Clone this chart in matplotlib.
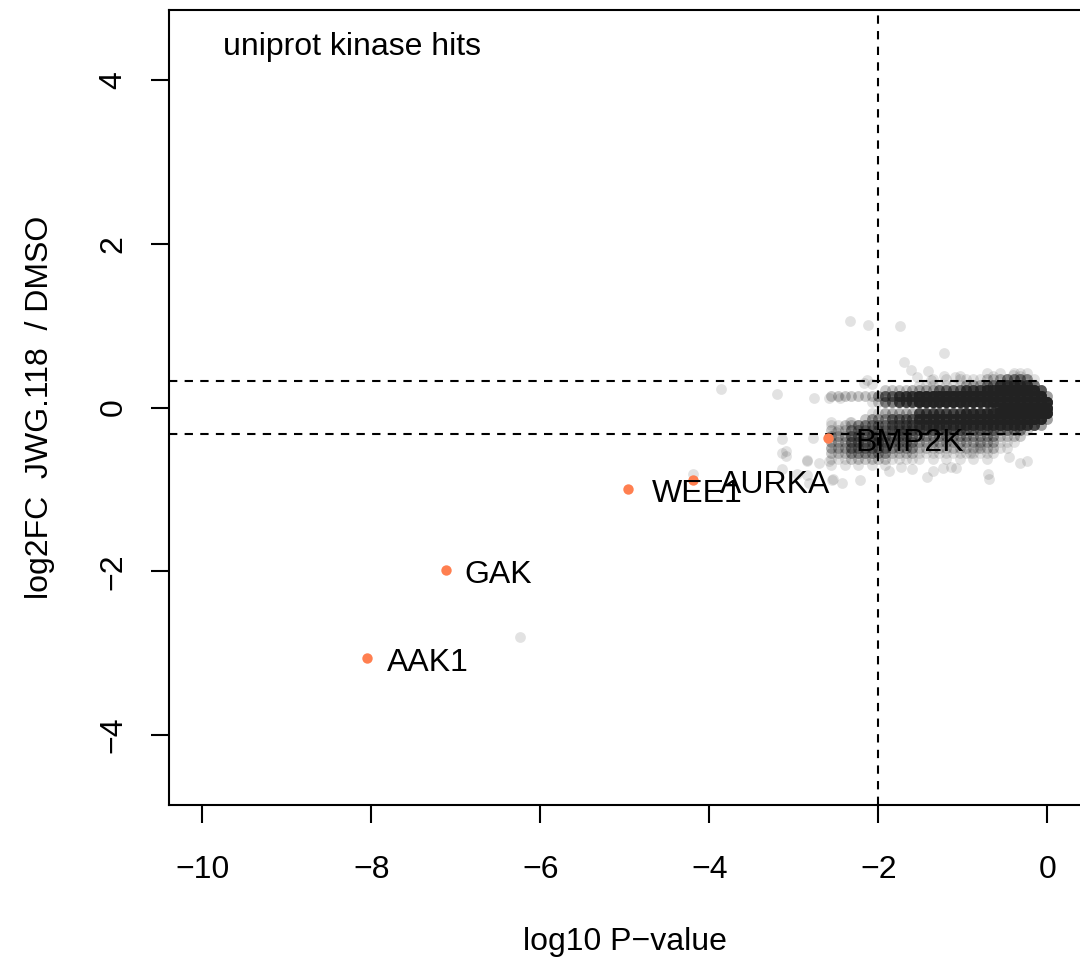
import numpy as np
import matplotlib
matplotlib.use('Agg')
import matplotlib.pyplot as plt

plt.rcParams['font.family'] = ['Liberation Sans', 'DejaVu Sans']

# kinase hits (orange, labelled)
hit_names = ['AAK1', 'GAK', 'WEE1', 'AURKA', 'BMP2K']
hit_x = [-8.05, -7.12, -4.96, -4.20, -2.60]
hit_y = [-3.06, -1.98, -1.00, -0.89, -0.37]
label_dx = [14.4, 13.0, 16.6, 19.4, 20.2]  # text offset right of point, pt

# sparse background proteins
bg_x = [-2.34, -2.13, -1.75, -1.23, -1.70, -1.61, -1.42, -1.55, -1.38, -1.23,
        -1.10, -1.04, -0.65, -0.41, -0.33, -0.25, -2.14, -2.08, -3.86, -3.20,
        -2.76, -2.58, -2.46, -6.24, -4.20, -3.14, -3.09, -3.10, -3.14, -2.85,
        -2.96, -2.78, -2.32, -2.50, -2.54, -2.43, -2.22, -1.87, -1.73, -1.60,
        -1.43, -1.36, -1.24, -1.14, -1.08, -0.71, -0.69, -0.33, -0.24, -0.45,
        -0.92, -0.84, -0.80, -3.14, -2.85, -2.70, -2.58, -2.85, -2.82, -2.55,
        -2.34, -2.56, -2.17]
bg_y = [1.06, 1.01, 1.00, 0.66, 0.56, 0.46, 0.44, 0.37, 0.34, 0.38,
        0.37, 0.38, 0.39, 0.40, 0.39, 0.35, 0.33, 0.29, 0.23, 0.16,
        0.11, 0.12, 0.12, -2.80, -0.81, -0.38, -0.53, -0.59, -0.75, -0.64,
        -0.81, -0.37, -0.18, -0.30, -0.87, -0.92, -0.89, -0.77, -0.73, -0.75,
        -0.85, -0.77, -0.74, -0.73, -0.74, -0.81, -0.87, -0.68, -0.65, -0.61,
        -0.56, -0.49, -0.46, -0.56, -0.65, -0.68, -0.65, -0.83, -0.92, -0.89,
        -0.18, -0.18, 0.30]

# dense core: number of proteins stacked at each grid cell (estimated)
core_x = [-2.56, -2.48, -2.40, -2.32, -2.24, -2.16, -2.08, -2.00, -1.92, -1.84,
          -1.76, -1.68, -1.60, -1.52, -1.44, -1.36, -1.28, -1.20, -1.12, -1.04,
          -0.96, -0.88, -0.80, -0.72, -0.64, -0.56, -0.48, -0.40, -0.32, -0.24,
          -0.16, -0.08, 0.00]
core_y = [0.42, 0.35, 0.28, 0.21, 0.14, 0.07, 0.00, -0.07, -0.14, -0.21,
          -0.28, -0.35, -0.42, -0.49, -0.56, -0.63, -0.70]
core_counts = [
    [0,0,0,0,0, 0,0,0,0,0, 0,0,0,0,0, 0,0,0,0,0, 0,0,0,1,0, 1,0,1,1,1, 0,0,0],
    [0,0,0,0,0, 0,0,0,0,0, 0,0,0,0,0, 1,0,1,0,1, 1,1,1,2,2, 3,6,6,6,4, 1,0,0],
    [0,0,0,0,0, 0,0,0,0,0, 0,0,0,1,1, 1,1,1,1,1, 3,3,3,6,6, 14,14,14,14,14, 6,0,0],
    [0,0,0,0,0, 0,0,0,2,2, 2,2,3,3,3, 3,7,7,7,7, 12,12,12,18,18, 22,22,22,22,22, 22,10,0],
    [2,2,2,2,2, 2,2,4,8,8, 14,14,14,24,24, 24,24,24,24,24, 24,24,24,24,24, 24,24,24,24,24, 24,24,4],
    [0,0,0,0,0, 0,1,2,6,6, 12,12,12,24,24, 24,24,24,24,24, 24,24,24,24,24, 24,24,24,24,24, 24,24,24],
    [0,0,0,0,0, 0,0,0,0,0, 0,0,0,0,0, 0,0,0,0,0, 0,0,0,1,4, 12,24,24,24,24, 24,24,24],
    [0,0,0,0,0, 0,1,1,3,3, 3,3,3,12,12, 12,12,12,12,12, 18,18,18,18,18, 24,24,24,24,24, 24,24,24],
    [0,0,0,0,0, 2,4,4,4,8, 8,8,8,16,16, 16,16,16,16,16, 20,20,20,20,20, 24,24,24,24,24, 24,20,4],
    [1,1,2,2,5, 5,5,5,5,8, 8,8,8,12,12, 12,12,12,12,12, 14,14,14,14,14, 16,16,16,16,16, 12,4,0],
    [2,2,2,5,5, 5,5,5,5,7, 7,7,7,7,7, 7,7,7,7,7, 6,6,6,6,6, 5,5,5,5,2, 0,0,0],
    [3,3,3,7,7, 7,7,7,7,6, 6,6,6,4,4, 4,4,4,4,4, 4,4,4,4,4, 2,2,2,2,0, 0,0,0],
    [3,3,3,7,7, 7,7,7,7,5, 5,5,5,3,3, 3,3,3,3,3, 3,3,3,3,3, 1,1,1,0,0, 0,0,0],
    [3,3,3,6,6, 6,6,6,6,4, 4,4,4,2,2, 2,2,2,2,2, 2,2,2,2,2, 1,1,0,0,0, 0,0,0],
    [2,2,2,4,4, 4,4,4,4,2, 2,2,2,1,1, 1,1,1,1,1, 1,1,1,1,1, 0,0,0,0,0, 0,0,0],
    [1,1,1,2,2, 2,2,2,2,1, 1,1,1,1,0, 1,0,1,0,1, 0,1,0,1,0, 0,0,0,0,0, 0,0,0],
    [1,0,1,0,1, 0,1,0,1,0, 0,0,0,0,0, 0,0,0,0,0, 0,0,0,0,0, 0,0,0,0,0, 0,0,0],
]

x_ticks = [-10, -8, -6, -4, -2, 0]
y_ticks = [-4, -2, 0, 2, 4]
p_cut = -2
fc_cut = 0.322

# expand the core grid into individual points
all_x = list(bg_x)
all_y = list(bg_y)
for yy, row in zip(core_y, core_counts):
    for xx, n in zip(core_x, row):
        all_x += [xx] * n
        all_y += [yy] * n

fig = plt.figure(figsize=(10.8, 9.61), dpi=100)
ax = fig.add_axes([168.7 / 1080, 156 / 961, 912.6 / 1080, 795 / 961])

ax.scatter(all_x, all_y, s=60, c='#222222', alpha=0.13, linewidths=0, zorder=1)

dash = (0, (4, 3.5))
ax.axvline(p_cut, color='black', lw=1.5, ls=dash, zorder=2)
ax.axhline(fc_cut, color='black', lw=1.5, ls=dash, zorder=2)
ax.axhline(-fc_cut, color='black', lw=1.5, ls=dash, zorder=2)

ax.scatter(hit_x, hit_y, s=56, c='#FF7F50', linewidths=0, zorder=3)
for name, x, y, dx in zip(hit_names, hit_x, hit_y, label_dx):
    ax.annotate(name, (x, y), xytext=(dx, -9.3), textcoords='offset points',
                fontsize=23, ha='left', va='baseline', zorder=4)

ax.text(0.059, 0.944, 'uniprot kinase hits', transform=ax.transAxes,
        fontsize=23, ha='left', va='baseline')

ax.set_xlim(-10.4, 0.4)
ax.set_ylim(-4.855, 4.855)
ax.set_xticks(x_ticks)
ax.set_yticks(y_ticks)
ax.tick_params(axis='both', length=13, width=1.5, labelsize=23, direction='out')
ax.tick_params(axis='x', pad=23)
ax.tick_params(axis='y', pad=16, labelrotation=90)
for lab in ax.get_yticklabels():
    lab.set_va('center')
for sp in ax.spines.values():
    sp.set_linewidth(1.5)

ax.set_xlabel('log10 P\u2212value', fontsize=23, va='top')
ax.xaxis.set_label_coords(0.5, -0.1535)
ax.set_ylabel('log2FC  JWG.118  / DMSO', fontsize=23)
ax.yaxis.set_label_coords(-0.1246, 0.5)

fig.savefig('out.png', dpi=100)
